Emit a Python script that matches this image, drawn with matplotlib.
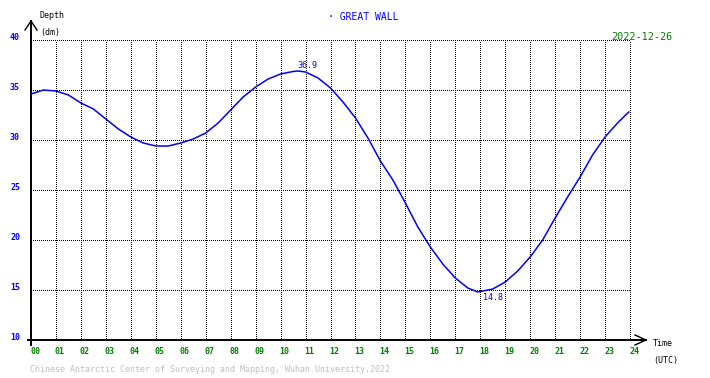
import matplotlib
matplotlib.use("Agg")
import matplotlib.pyplot as plt
import numpy as np

# tide curve, read every half hour (UTC), depth in dm
hours = [0, 0.5, 1, 1.5, 2, 2.5, 3, 3.5, 4, 4.5, 5, 5.5, 6, 6.5, 7, 7.5, 8, 8.5,
         9, 9.5, 10, 10.5, 10.7, 11, 11.5, 12, 12.5, 13, 13.5, 14, 14.5, 15, 15.5,
         16, 16.5, 17, 17.5, 17.9, 18, 18.5, 19, 19.5, 20, 20.5, 21, 21.5, 22,
         22.5, 23, 23.5, 23.95]
depth = [34.6, 35.0, 34.9, 34.5, 33.7, 33.1, 32.1, 31.1, 30.3, 29.7, 29.4, 29.4,
         29.7, 30.1, 30.7, 31.7, 33.0, 34.3, 35.3, 36.1, 36.6, 36.85, 36.9, 36.8,
         36.2, 35.2, 33.8, 32.2, 30.2, 27.9, 26.0, 23.7, 21.3, 19.3, 17.6, 16.2,
         15.2, 14.8, 14.85, 15.1, 15.8, 16.9, 18.3, 20.0, 22.2, 24.3, 26.3, 28.5,
         30.3, 31.7, 32.8]

xticks = list(range(0, 25))
xlabels = ["%02d" % h for h in xticks]
yticks = [10, 15, 20, 25, 30, 35, 40]
station = "GREAT WALL"
date = "2022-12-26"
footer = "Chinese Antarctic Center of Surveying and Mapping, Wuhan University,2022"

W, H = 710, 378
fig = plt.figure(figsize=(W / 100, H / 100), dpi=100)
ax = fig.add_axes([31 / W, 1 - 340 / H, 599 / W, 300 / H])
ax.set_xlim(0, 24)
ax.set_ylim(10, 40)
ax.set_axis_off()

mono = "DejaVu Sans Mono"
blue = "#0000ff"
green = "#008000"


def px(x, y):
    # pixel position in the picture -> data coords
    return (x - 31) / 25, (440 - y) / 10


# dotted grid
for h in xticks[1:]:
    ax.plot([h, h], [10, 40], color="black", lw=0.7, ls=(0, (1, 2)),
            clip_on=False, antialiased=False)
for v in yticks[1:]:
    ax.plot([0, 24], [v, v], color="black", lw=0.7, ls=(0, (1, 2)),
            clip_on=False, antialiased=False)

# axes with open arrow heads
x0, y_lo = px(31, 345)
_, y_hi = px(31, 21)
ax.plot([x0, x0], [y_lo, y_hi], color="black", lw=1.4, clip_on=False)
ax.plot([px(25, 30)[0], x0, px(37, 30)[0]], [px(25, 30)[1], y_hi, px(37, 30)[1]],
        color="black", lw=1.0, clip_on=False)
xa, _ = px(28, 340)
xb, _ = px(647, 340)
ax.plot([xa, xb], [10, 10], color="black", lw=1.4, clip_on=False)
ax.plot([px(636, 335)[0], xb, px(636, 345)[0]], [px(636, 335)[1], 10, px(636, 345)[1]],
        color="black", lw=1.0, clip_on=False)

# tide curve
ax.plot(hours, depth, color=blue, lw=1.1, clip_on=False)

imax = int(np.argmax(depth))
imin = int(np.argmin(depth))
ax.annotate("%.1f" % depth[imax], (hours[imax], depth[imax]), xytext=(-1, 1),
            textcoords="offset pixels", ha="left", va="bottom",
            family=mono, fontsize=6, color=blue)
ax.annotate("%.1f" % depth[imin], (hours[imin], depth[imin]), xytext=(5, -1),
            textcoords="offset pixels", ha="left", va="top",
            family=mono, fontsize=6, color=blue)

# tick labels
for h, lab in zip(xticks, xlabels):
    ax.text(h - 0.04, px(0, 352)[1], lab, ha="left", va="center",
            family=mono, fontsize=6, color=green, weight="bold")
for v in yticks:
    ax.text(px(20, 0)[0], v + 0.2, str(v), ha="right", va="center",
            family=mono, fontsize=6, color=blue, weight="bold")

# labels and titles
ax.text(*px(40, 16), "Depth", ha="left", va="center", family=mono, fontsize=6, color="black")
ax.text(*px(40, 33), "(dm)", ha="left", va="center", family=mono, fontsize=6, color="black")
ax.text(*px(654, 344), "Time", ha="left", va="center", family=mono, fontsize=6, color="black")
ax.text(*px(654, 360), "(UTC)", ha="left", va="center", family=mono, fontsize=6, color="black")
ax.text(*px(328, 17), "\u00b7 " + station, ha="left", va="center", family=mono,
        fontsize=7, color=blue)
ax.text(*px(612, 37), date, ha="left", va="center", family=mono, fontsize=7.3, color=green)
ax.text(*px(30, 370), footer, ha="left", va="center", family=mono, fontsize=6,
        color="#c0c0c0")

fig.savefig("out.png", dpi=100)
